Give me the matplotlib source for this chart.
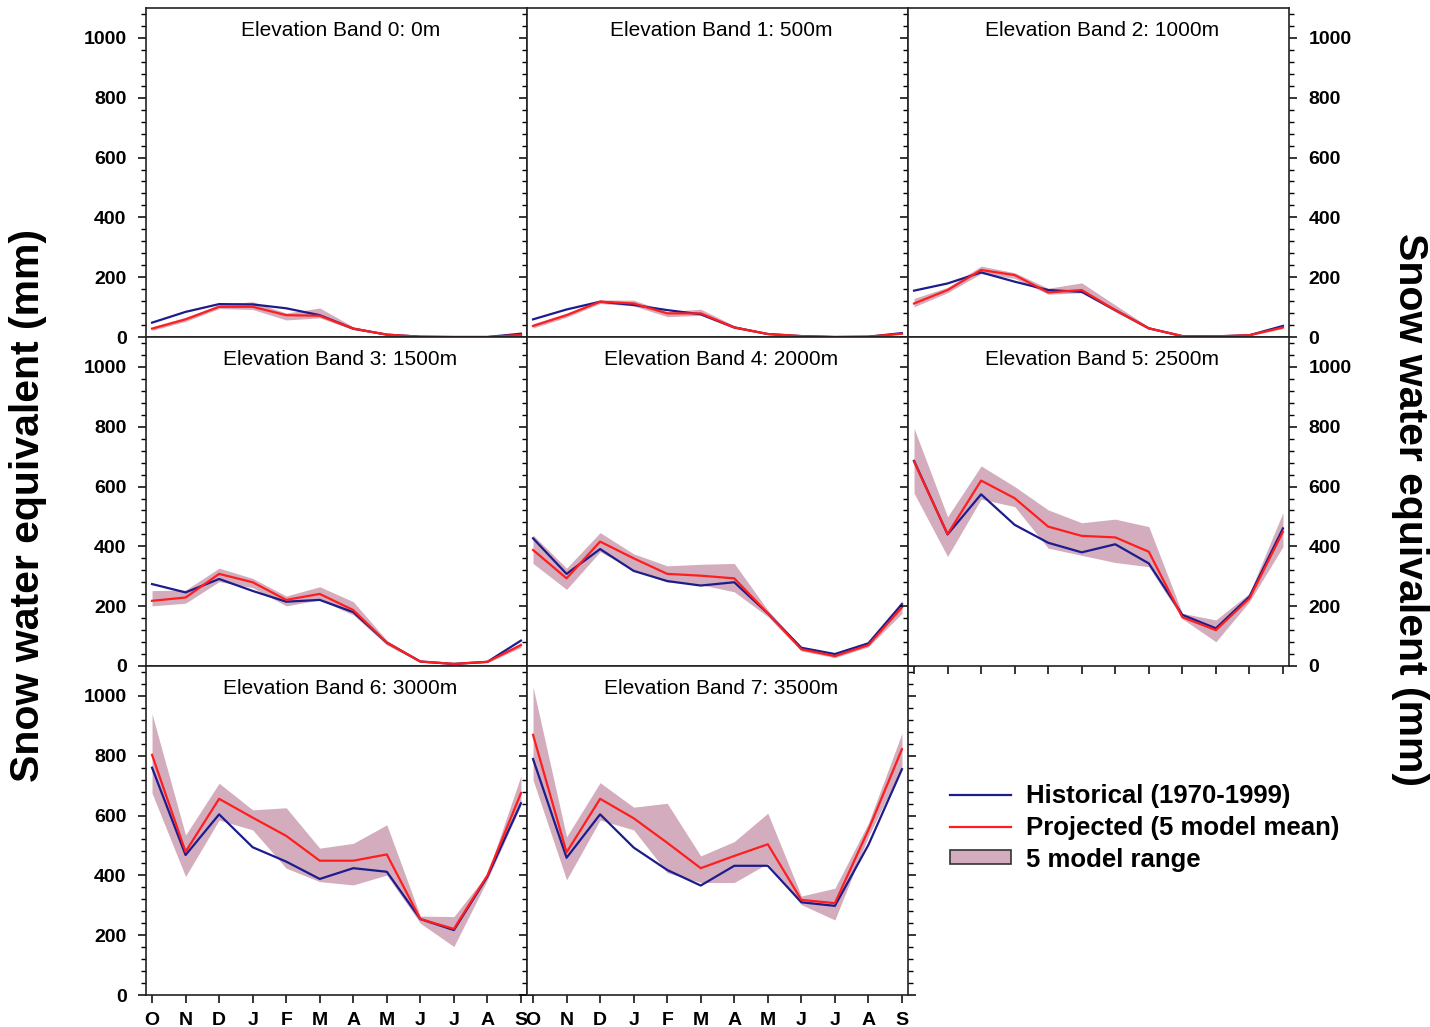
import numpy as np
import matplotlib
matplotlib.use("Agg")
import matplotlib.pyplot as plt
from matplotlib.lines import Line2D
from matplotlib.patches import Patch
from matplotlib.ticker import MultipleLocator

plt.rcParams['font.family'] = ['Liberation Sans', 'DejaVu Sans']

months = ["O", "N", "D", "J", "F", "M", "A", "M", "J", "J", "A", "S"]
band_titles = ["Elevation Band 0: 0m", "Elevation Band 1: 500m", "Elevation Band 2: 1000m",
               "Elevation Band 3: 1500m", "Elevation Band 4: 2000m", "Elevation Band 5: 2500m",
               "Elevation Band 6: 3000m", "Elevation Band 7: 3500m"]

# historical (1970-1999) SWE, mm
hist_0 = [48, 84, 110, 109, 96, 73, 28, 8, 1, 0, 0, 11]
hist_1 = [59, 92, 118, 107, 90, 76, 32, 10, 3, 0, 1, 13]
hist_2 = [155, 179, 216, 185, 157, 151, 90, 29, 3, 2, 6, 37]
hist_3 = [274, 246, 291, 251, 215, 221, 180, 78, 15, 7, 14, 85]
hist_4 = [427, 308, 391, 318, 284, 269, 280, 176, 61, 40, 76, 207]
hist_5 = [686, 440, 574, 472, 412, 380, 407, 343, 171, 126, 232, 460]
hist_6 = [760, 468, 604, 494, 446, 388, 424, 412, 254, 217, 396, 641]
hist_7 = [789, 459, 604, 493, 418, 366, 432, 432, 310, 298, 502, 755]

# projected 5 model mean
proj_0 = [28, 59, 101, 101, 73, 71, 28, 8, 1, 0, 0, 7]
proj_1 = [37, 73, 118, 112, 79, 79, 32, 10, 3, 0, 1, 11]
proj_2 = [112, 157, 224, 207, 149, 157, 90, 29, 3, 2, 6, 32]
proj_3 = [218, 229, 308, 280, 221, 241, 187, 78, 15, 7, 14, 70]
proj_4 = [388, 293, 416, 360, 308, 302, 293, 176, 56, 33, 70, 196]
proj_5 = [683, 441, 620, 561, 466, 435, 430, 382, 163, 120, 226, 449]
proj_6 = [803, 479, 656, 593, 532, 449, 449, 470, 254, 221, 400, 675]
proj_7 = [870, 477, 656, 591, 509, 424, 465, 504, 318, 307, 552, 822]

# 5 model range (min / max)
low_0 = [22, 52, 95, 92, 57, 64, 24, 6, 0, 0, 0, 5]
high_0 = [34, 66, 108, 118, 80, 97, 34, 11, 2, 1, 1, 10]
low_1 = [30, 66, 112, 104, 68, 72, 28, 8, 2, 0, 0, 9]
high_1 = [44, 80, 124, 123, 85, 93, 38, 13, 4, 1, 2, 14]
low_2 = [101, 148, 212, 196, 143, 148, 84, 26, 2, 1, 4, 28]
high_2 = [129, 166, 237, 215, 163, 181, 107, 34, 4, 3, 8, 37]
low_3 = [201, 210, 282, 262, 201, 221, 171, 70, 12, 5, 11, 62]
high_3 = [252, 254, 327, 293, 234, 265, 215, 86, 18, 9, 17, 78]
low_4 = [343, 256, 382, 320, 281, 272, 248, 165, 50, 28, 64, 176]
high_4 = [438, 327, 446, 375, 335, 340, 343, 187, 63, 42, 78, 218]
low_5 = [578, 366, 558, 533, 394, 370, 346, 332, 158, 81, 215, 399]
high_5 = [795, 499, 669, 600, 522, 479, 491, 466, 176, 154, 243, 513]
low_6 = [675, 396, 585, 552, 424, 379, 368, 401, 240, 162, 385, 635]
high_6 = [940, 535, 708, 619, 626, 491, 507, 569, 264, 262, 405, 733]
low_7 = [719, 385, 585, 552, 409, 376, 376, 440, 302, 251, 530, 760]
high_7 = [1030, 529, 710, 628, 641, 465, 513, 608, 331, 357, 575, 875]

hist = [hist_0, hist_1, hist_2, hist_3, hist_4, hist_5, hist_6, hist_7]
proj = [proj_0, proj_1, proj_2, proj_3, proj_4, proj_5, proj_6, proj_7]
low = [low_0, low_1, low_2, low_3, low_4, low_5, low_6, low_7]
high = [high_0, high_1, high_2, high_3, high_4, high_5, high_6, high_7]

BLUE = "#1c1c8c"
RED = "#ff1e1e"
BAND = "#d3adbd"

fig, axes = plt.subplots(3, 3, figsize=(14.3, 10.27), dpi=100,
                         gridspec_kw=dict(wspace=0, hspace=0))
fig.subplots_adjust(left=146/1430, right=1289/1430, top=1-8/1027, bottom=1-995/1027)

x = np.arange(len(months))
for k in range(8):
    r, c = divmod(k, 3)
    ax = axes[r, c]
    ax.fill_between(x, low[k], high[k], color=BAND, lw=0)
    ax.plot(x, hist[k], color=BLUE, lw=1.6)
    ax.plot(x, proj[k], color=RED, lw=1.6)
    ax.set_xlim(-0.18, 11.18)
    ax.set_ylim(0, 1100)
    ax.text(0.51, 0.962, band_titles[k], transform=ax.transAxes, ha='center', va='top', fontsize=15)
    ax.yaxis.set_major_locator(MultipleLocator(200))
    ax.yaxis.set_minor_locator(MultipleLocator(40))
    ax.set_xticks(x)
    ax.tick_params(axis='both', which='major', length=6, width=1.1, direction='out',
                   labelsize=14)
    ax.tick_params(axis='y', which='minor', length=3.5, width=1.0, direction='out')
    ax.tick_params(axis='y', which='both', left=True, right=True)
    ax.tick_params(axis='x', which='both', top=False, pad=6)
    for sp in ax.spines.values():
        sp.set_linewidth(1.2)
        sp.set_color("#222222")
    ax.tick_params(labelleft=(c == 0), labelright=(c == 2), labelbottom=(r == 2))
    ax.set_yticks([0, 200, 400, 600, 800, 1000])
    if r == 2:
        ax.set_xticklabels(months, fontweight='bold')
    for lab in ax.get_yticklabels():
        lab.set_fontweight('bold')
    ax.tick_params(axis='y', pad=8)

axes[2, 2].axis('off')

handles = [Line2D([], [], color=BLUE, lw=1.6),
           Line2D([], [], color=RED, lw=1.6),
           Patch(facecolor=BAND, edgecolor="#333333", lw=1.2)]
labels = ["Historical (1970-1999)", "Projected (5 model mean)", "5 model range"]
fig.legend(handles, labels, loc='upper left', bbox_to_anchor=(927/1430, 1-761/1027),
           frameon=False, prop=dict(size=18.5, weight='bold'), handlelength=2.35,
           handleheight=0.45, labelspacing=0.3, handletextpad=0.6)

fig.text(28/1430, 0.508, "Snow water equivalent (mm)", rotation=90, ha='center', va='center',
         fontsize=29.5, fontweight='bold')
fig.text(1410/1430, 0.504, "Snow water equivalent (mm)", rotation=270, ha='center', va='center',
         fontsize=29.5, fontweight='bold')

fig.savefig("out.png", dpi=100)
